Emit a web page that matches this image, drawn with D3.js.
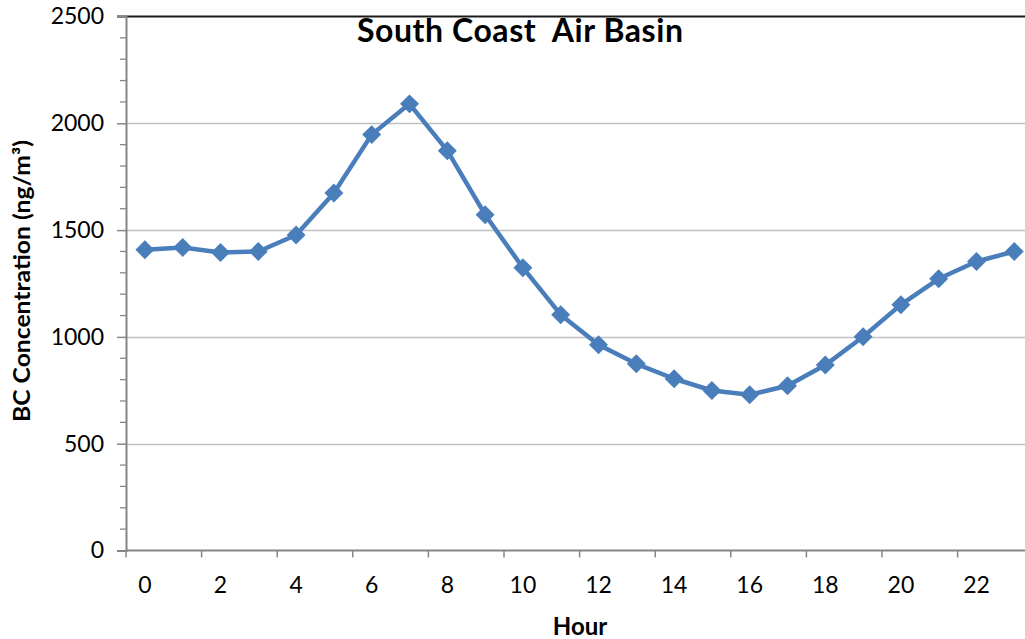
<!DOCTYPE html>
<html>
<head>
<meta charset="utf-8">
<script src="https://cdn.jsdelivr.net/npm/d3@7"></script>
<style>
  html, body { margin: 0; padding: 0; background: #fff; }
  svg { display: block; }
  text { font-family: Lato, "Open Sans", sans-serif; fill: #000; }
</style>
</head>
<body>
<svg id="chart" width="1025" height="639"></svg>
<script>
const hours = d3.range(0, 24);
const hourLabels = ["0","2","4","6","8","10","12","14","16","18","20","22"];
const bcValues = [1408, 1419, 1395, 1400, 1477, 1674, 1947, 2091, 1872, 1572, 1324, 1104,
                  963, 874, 804, 749, 729, 771, 868, 1001, 1151, 1272, 1353, 1400];
const yTicks = [0, 500, 1000, 1500, 2000, 2500];
const yMinorTicks = d3.range(0, 2501, 100);
const titleText = "South Coast  Air Basin";
const yTitle = "BC Concentration (ng/m³)";
const xTitle = "Hour";

const svg = d3.select("#chart");
const plotLeft = 126, plotTop = 16.5, plotBottom = 550.5, bandW = 37.8;
const plotRight = plotLeft + bandW * 24;

const x = d3.scaleBand().domain(hours).range([plotLeft, plotRight]).paddingInner(0).paddingOuter(0);
const y = d3.scaleLinear().domain([0, 2500]).range([plotBottom, plotTop]);

// gridlines
svg.append("g").selectAll("line").data(yTicks.filter(d => d > 0 && d < 2500)).join("line")
  .attr("x1", plotLeft).attr("x2", 1025)
  .attr("y1", d => Math.round(y(d)) + 0.5).attr("y2", d => Math.round(y(d)) + 0.5)
  .attr("stroke", "#c0c0c0").attr("stroke-width", 1.3);

// top border line
svg.append("line").attr("x1", 117).attr("x2", 1025)
  .attr("y1", y(2500)).attr("y2", y(2500))
  .attr("stroke", "#1a1a1a").attr("stroke-width", 2);

// y minor ticks
svg.append("g").selectAll("line").data(yMinorTicks.filter(d => d % 500 !== 0)).join("line")
  .attr("x1", plotLeft - 6).attr("x2", plotLeft)
  .attr("y1", d => y(d)).attr("y2", d => y(d))
  .attr("stroke", "#868686").attr("stroke-width", 1.3);

// y axis
const yAxis = d3.axisLeft(y).tickValues(yTicks).tickSize(9).tickPadding(13).tickFormat(d3.format("d"));
const gy = svg.append("g").attr("transform", `translate(${plotLeft},0)`).call(yAxis);
gy.select(".domain").attr("stroke", "#868686").attr("stroke-width", 2);
gy.selectAll(".tick line").attr("stroke", "#868686").attr("stroke-width", 1.5);
gy.selectAll(".tick text").style("font-size", "23px").style("font-family", "Lato, sans-serif").attr("fill", "#000");

// x axis: labels at every other category center, ticks at every other boundary
const gx = svg.append("g").attr("transform", `translate(0,${plotBottom})`);
gx.append("line").attr("x1", plotLeft).attr("x2", 1025).attr("y1", 0).attr("y2", 0)
  .attr("stroke", "#868686").attr("stroke-width", 2);
const boundaries = d3.range(0, 24, 2);
gx.selectAll("line.tk").data(boundaries).join("line").attr("class", "tk")
  .attr("x1", d => x(d)).attr("x2", d => x(d)).attr("y1", 0).attr("y2", 7)
  .attr("stroke", "#868686").attr("stroke-width", 1.5);
gx.selectAll("text.lbl").data(hourLabels).join("text").attr("class", "lbl")
  .attr("x", d => x(+d) + x.bandwidth() / 2).attr("y", 42)
  .attr("text-anchor", "middle").style("font-size", "23px").text(d => d);

// line
const line = d3.line().x((d, i) => x(hours[i]) + x.bandwidth() / 2).y(d => y(d));
svg.append("path").datum(bcValues).attr("d", line)
  .attr("fill", "none").attr("stroke", "#4a7ebb").attr("stroke-width", 4.5)
  .attr("stroke-linejoin", "round");

// markers
const sym = d3.symbol().type(d3.symbolSquare).size(180);
svg.append("g").selectAll("path").data(bcValues).join("path")
  .attr("d", sym)
  .attr("transform", (d, i) => `translate(${x(hours[i]) + x.bandwidth() / 2},${y(d)}) rotate(45)`)
  .attr("fill", "#4a7ebb");

// titles
svg.append("text").attr("x", 520).attr("y", 42).attr("text-anchor", "middle")
  .style("font-size", "32px").style("font-weight", "bold").style("white-space", "pre")
  .attr("xml:space", "preserve").attr("textLength", 326).attr("lengthAdjust", "spacing").text(titleText);
svg.append("text").attr("transform", `translate(30,281) rotate(-90)`).attr("text-anchor", "middle")
  .style("font-size", "22px").style("font-weight", "bold")
  .attr("textLength", 282).attr("lengthAdjust", "spacingAndGlyphs").text(yTitle);
svg.append("text").attr("x", 580).attr("y", 635).attr("text-anchor", "middle")
  .style("font-size", "24px").style("font-weight", "bold").text(xTitle);
</script>
</body>
</html>
